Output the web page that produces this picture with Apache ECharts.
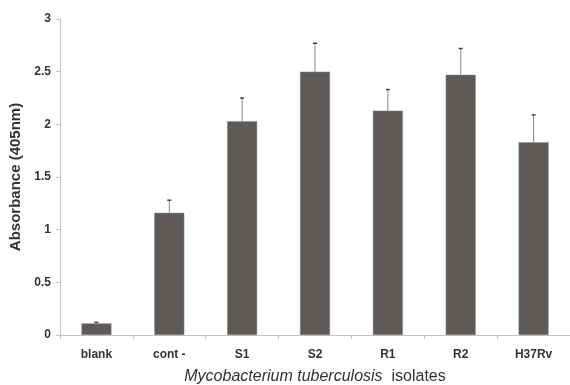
<!DOCTYPE html>
<html><head><meta charset="utf-8">
<script src="https://cdn.jsdelivr.net/npm/echarts@6/dist/echarts.min.js"></script>
<style>html,body{margin:0;padding:0;background:#fff}#c{width:570px;height:385px}</style>
</head><body><div id="c"></div>
<script>
const categories = ['blank', 'cont -', 'S1', 'S2', 'R1', 'R2', 'H37Rv'];
const means = [0.11, 1.16, 2.03, 2.50, 2.13, 2.47, 1.83];
const errors = [0.01, 0.12, 0.22, 0.27, 0.20, 0.25, 0.26];
const yTicks = [0, 0.5, 1, 1.5, 2, 2.5, 3];

const errData = categories.map((c, i) => [i, means[i], means[i] + errors[i]]);
const chart = echarts.init(document.getElementById('c'), null, {renderer: 'canvas'});
chart.setOption({
  animation: false,
  backgroundColor: '#fff',
  grid: {left: 60, right: 0, top: 19, bottom: 50, containLabel: false, outerBoundsMode: 'none'},
  xAxis: {
    type: 'category', data: categories,
    axisLine: {lineStyle: {color: '#c4c4c4', width: 1}},
    axisTick: {show: true, length: 4, lineStyle: {color: '#c4c4c4'}},
    axisLabel: {color: '#333', fontFamily: 'Liberation Sans', fontSize: 12, fontWeight: 'bold', margin: 14},
    name: '{i|Mycobacterium tuberculosis}{n|  isolates}',
    nameLocation: 'middle', nameGap: 34,
    nameTextStyle: {
      rich: {
        i: {fontFamily: 'Liberation Sans', fontStyle: 'italic', fontSize: 16, color: '#333'},
        n: {fontFamily: 'Liberation Sans', fontSize: 16, color: '#333'}
      }
    }
  },
  yAxis: {
    type: 'value', min: 0, max: 3, interval: 0.5,
    splitLine: {show: false},
    axisLine: {show: true, lineStyle: {color: '#c4c4c4', width: 1}},
    axisTick: {show: true, length: 4, lineStyle: {color: '#c4c4c4'}},
    axisLabel: {color: '#333', fontFamily: 'Liberation Sans', fontSize: 12, fontWeight: 'bold', margin: 9,
      formatter: v => (yTicks.indexOf(v) >= 0 ? String(v) : '')},
    name: 'Absorbance (405nm)', nameLocation: 'middle', nameGap: 34,
    nameTextStyle: {fontFamily: 'Liberation Sans', fontSize: 15, fontWeight: 'bold', color: '#333'}
  },
  series: [
    {type: 'bar', data: means, barWidth: 30,
      itemStyle: {color: '#5f5a58', borderColor: '#7f8a8c', borderWidth: 0.5}},
    {type: 'custom', data: errData, z: 5,
      renderItem: (params, api) => {
        const p0 = api.coord([api.value(0), api.value(1)]);
        const p1 = api.coord([api.value(0), api.value(2)]);
        return {type: 'group', children: [
          {type: 'line', shape: {x1: p0[0], y1: p0[1], x2: p1[0], y2: p1[1]}, style: {stroke: '#888', lineWidth: 1}},
          {type: 'line', shape: {x1: p1[0] - 2, y1: p1[1], x2: p1[0] + 2, y2: p1[1]}, style: {stroke: '#444', lineWidth: 1.5}}
        ]};
      }}
  ]
});
</script></body></html>
